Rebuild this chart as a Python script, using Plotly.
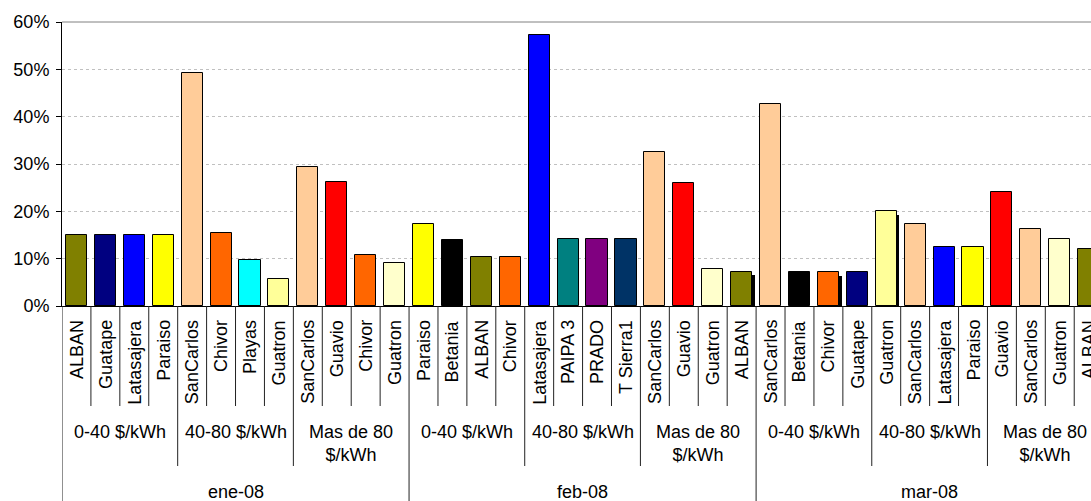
import plotly.graph_objects as go

# Participación por planta, agrupada por rango de precio y por mes
meses = ["ene-08", "feb-08", "mar-08"]
rangos = ["0-40 $/kWh", "40-80 $/kWh", "Mas de 80<br>$/kWh"]

plantas = [
    # ene-08
    "ALBAN", "Guatape", "Latasajera", "Paraiso",
    "SanCarlos", "Chivor", "Playas", "Guatron",
    "SanCarlos", "Guavio", "Chivor", "Guatron",
    # feb-08
    "Paraiso", "Betania", "ALBAN", "Chivor",
    "Latasajera", "PAIPA 3", "PRADO", "T Sierra1",
    "SanCarlos", "Guavio", "Guatron", "ALBAN",
    # mar-08
    "SanCarlos", "Betania", "Chivor", "Guatape",
    "Guatron", "SanCarlos", "Latasajera", "Paraiso",
    "Guavio", "SanCarlos", "Guatron", "ALBAN",
]

valores = [
    0.150, 0.150, 0.150, 0.150,
    0.493, 0.154, 0.098, 0.056,
    0.294, 0.262, 0.108, 0.090,
    0.174, 0.140, 0.104, 0.104,
    0.573, 0.142, 0.142, 0.142,
    0.325, 0.260, 0.078, 0.072,
    0.427, 0.071, 0.071, 0.071,
    0.200, 0.174, 0.124, 0.124,
    0.240, 0.163, 0.142, 0.120,
]

# Serie secundaria (negra) que asoma detrás de algunas barras
sombra = [
    None, None, None, None, None, None, None, None, None, None, None, None,
    None, None, None, None, None, None, None, None, None, None, None, 0.066,
    None, None, 0.063, None, 0.192, None, None, None, None, None, None, None,
]

colores = [
    "#808000", "#000080", "#0000FF", "#FFFF00",
    "#FFCC99", "#FF6600", "#00FFFF", "#FFFF99",
    "#FFCC99", "#FF0000", "#FF6600", "#FFFFCC",
    "#FFFF00", "#000000", "#808000", "#FF6600",
    "#0000FF", "#008080", "#800080", "#003366",
    "#FFCC99", "#FF0000", "#FFFFCC", "#808000",
    "#FFCC99", "#000000", "#FF6600", "#000080",
    "#FFFF99", "#FFCC99", "#0000FF", "#FFFF00",
    "#FF0000", "#FFCC99", "#FFFFCC", "#808000",
]

y_ticks = [0, 0.1, 0.2, 0.3, 0.4, 0.5, 0.6]
y_tick_text = ["0%", "10%", "20%", "30%", "40%", "50%", "60%"]

FONT = "Liberation Sans, Arial, sans-serif"
FS = 18
n = len(plantas)
por_rango = 4
por_mes = 12
x_pos = [i + 0.5 for i in range(n)]
ancho = 0.73
x_max = 35.58

# Geometría vertical (en píxeles de la figura)
W, H = 1091, 501
M_TOP, M_BOT, M_LEFT = 22, 195, 62
plot_h = H - M_TOP - M_BOT
y_base = H - M_BOT


def py(pix):
    """Convierte una coordenada vertical en píxeles a coordenadas 'paper'."""
    return (y_base - pix) / plot_h


fig = go.Figure()

fig.add_trace(go.Bar(
    x=x_pos, y=sombra, width=ancho, offset=-ancho / 2 + 0.093,
    marker=dict(color="#000000", line=dict(width=0)),
    hoverinfo="skip", showlegend=False,
))

fig.add_trace(go.Bar(
    x=x_pos, y=valores, width=ancho, offset=-ancho / 2,
    marker=dict(color=colores, line=dict(color="#000000", width=1)),
    text=plantas, hovertemplate="%{text}: %{y:.0%}<extra></extra>",
    textposition="none", showlegend=False,
))

shapes = []
annotations = []

# Borde superior del área de trazado
shapes.append(dict(type="line", xref="x", yref="paper", x0=0, x1=x_max,
                   y0=1, y1=1, line=dict(color="#808080", width=1)))

# Separadores de la tabla de categorías
for i in range(n + 1):
    if i % por_mes == 0:
        y_fin = py(H + 2)
    elif i % por_rango == 0:
        y_fin = py(466)
    else:
        y_fin = py(406)
    shapes.append(dict(type="line", xref="x", yref="paper", x0=i, x1=i,
                       y0=0, y1=y_fin, line=dict(color="#222222", width=1)))

# Nombres de planta (rotados)
for i, nombre in enumerate(plantas):
    annotations.append(dict(
        x=x_pos[i], y=py(318), xref="x", yref="paper", text=nombre,
        textangle=-90, showarrow=False, xanchor="center", yanchor="top",
        font=dict(family=FONT, size=FS, color="#000000"),
    ))

# Rangos de precio
for m in range(len(meses)):
    for r, rango in enumerate(rangos):
        ini = m * por_mes + r * por_rango
        doble = "<br>" in rango
        annotations.append(dict(
            x=ini + por_rango / 2, y=py(443 if doble else 432),
            xref="x", yref="paper", text=rango, showarrow=False,
            xanchor="center", yanchor="middle",
            font=dict(family=FONT, size=FS, color="#000000"),
        ))

# Meses
for m, mes in enumerate(meses):
    annotations.append(dict(
        x=m * por_mes + por_mes / 2, y=py(491.5), xref="x", yref="paper",
        text=mes, showarrow=False, xanchor="center", yanchor="middle",
        font=dict(family=FONT, size=FS, color="#000000"),
    ))

fig.update_layout(
    width=W, height=H,
    margin=dict(l=M_LEFT, r=0, t=M_TOP, b=M_BOT, pad=0),
    paper_bgcolor="#FFFFFF", plot_bgcolor="#FFFFFF",
    font=dict(family=FONT, size=FS, color="#000000"),
    bargap=0, barmode="overlay",
    shapes=shapes, annotations=annotations,
    xaxis=dict(
        range=[0, x_max], showticklabels=False, ticks="",
        showgrid=False, zeroline=False,
        showline=True, linecolor="#000000", linewidth=1,
        fixedrange=True,
    ),
    yaxis=dict(
        range=[0, 0.6], tickvals=y_ticks, ticktext=y_tick_text,
        ticks="outside", ticklen=5, tickcolor="#000000", tickwidth=1,
        ticklabelstandoff=3,
        showline=True, linecolor="#000000", linewidth=1,
        showgrid=True, gridcolor="#C0C0C0", gridwidth=1, griddash="dot",
        zeroline=False, fixedrange=True,
        tickfont=dict(family=FONT, size=FS, color="#000000"),
    ),
)

fig.write_html("out.html")
